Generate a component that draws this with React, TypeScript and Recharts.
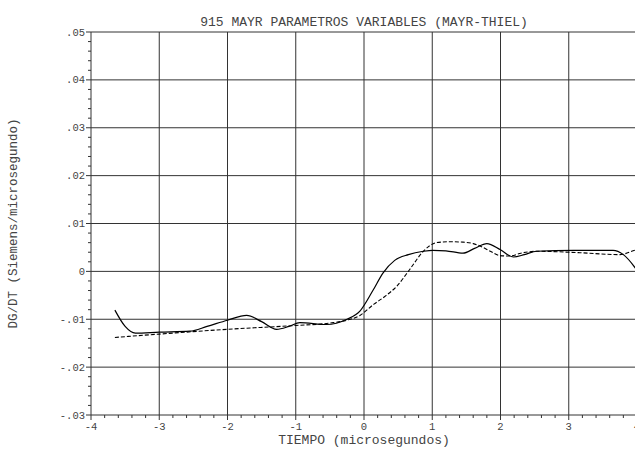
import React from "react";
import { LineChart, Line, XAxis, YAxis, ReferenceLine } from "recharts";

const solidX = [-3.65, -3.5, -3.35, -3.0, -2.55, -2.3, -2.0, -1.72, -1.5, -1.28, -1.1, -0.94, -0.55, -0.25, -0.06, 0.13, 0.28, 0.45, 0.65, 0.87, 1.01, 1.2, 1.45, 1.62, 1.8, 2.0, 2.19, 2.35, 2.53, 3.07, 3.65, 3.8, 3.97, 4.0];
const solidY = [-0.0081, -0.0115, -0.0129, -0.0127, -0.0125, -0.0115, -0.0102, -0.0092, -0.0105, -0.0121, -0.0115, -0.0107, -0.0111, -0.01, -0.0083, -0.004, -0.0003, 0.0023, 0.0035, 0.0042, 0.0044, 0.0043, 0.0038, 0.0048, 0.0058, 0.0045, 0.003, 0.0035, 0.0042, 0.0044, 0.0044, 0.0035, 0.0008, 0.0002];

const dashX = [-3.65, -3.0, -2.0, -1.0, -0.5, -0.25, -0.06, 0.14, 0.3, 0.48, 0.67, 0.87, 1.06, 1.25, 1.45, 1.6, 1.7, 1.85, 1.99, 2.14, 2.3, 2.53, 3.16, 3.75, 3.97, 4.0];
const dashY = [-0.0138, -0.0131, -0.0121, -0.0113, -0.0108, -0.0102, -0.0092, -0.0069, -0.0053, -0.0031, 0.0004, 0.0042, 0.006, 0.0062, 0.0061, 0.0058, 0.0053, 0.0042, 0.0033, 0.0032, 0.0038, 0.0042, 0.0039, 0.0035, 0.0044, 0.0045];

const xMajor = [-4, -3, -2, -1, 0, 1, 2, 3, 4];
const xMajorLabels = ["-4", "-3", "-2", "-1", "0", "1", "2", "3", "4"];
const yMajor = [-0.03, -0.02, -0.01, 0, 0.01, 0.02, 0.03, 0.04, 0.05];
const yMajorLabels = ["-.03", "-.02", "-.01", "0", ".01", ".02", ".03", ".04", ".05"];

const title = "915 MAYR PARAMETROS VARIABLES (MAYR-THIEL)";
const xTitle = "TIEMPO (microsegundos)";
const yTitle = "DG/DT (Siemens/microsegundo)";

const solidData = solidX.map((x, i) => ({ x, y: solidY[i] }));
const dashData = dashX.map((x, i) => ({ x, y: dashY[i] }));

const xTicks: number[] = [];
for (let i = 0; i < xMajor.length - 1; i++) {
  for (let k = 0; k < 5; k++) xTicks.push(+(xMajor[i] + k * 0.2).toFixed(2));
}
xTicks.push(4);
const yTicks: number[] = [];
for (let i = 0; i < yMajor.length - 1; i++) {
  for (let k = 0; k < 5; k++) yTicks.push(+(yMajor[i] + k * 0.002).toFixed(4));
}
yTicks.push(0.05);

const FONT = "'Liberation Mono', 'DejaVu Sans Mono', monospace";
const INK = "#333";
const TXT = "#444";

const XTick = (props: any) => {
  const { x, y, payload } = props;
  const v = payload.value;
  const idx = xMajor.findIndex((m) => Math.abs(m - v) < 1e-6);
  const major = idx >= 0;
  return (
    <g>
      <line x1={x} x2={x} y1={y} y2={y + (major ? 5 : 3)} stroke={INK} strokeWidth={1} />
      {major && (
        <text x={x} y={y + 15} textAnchor="middle" fontFamily={FONT} fontSize={10.5} fill={TXT}>
          {xMajorLabels[idx]}
        </text>
      )}
    </g>
  );
};

const YTick = (props: any) => {
  const { x, y, payload } = props;
  const v = payload.value;
  const idx = yMajor.findIndex((m) => Math.abs(m - v) < 1e-7);
  const major = idx >= 0;
  return (
    <g>
      <line x1={x} x2={x - (major ? 5 : 3)} y1={y} y2={y} stroke={INK} strokeWidth={1} />
      {major && (
        <text x={x - 6} y={y + 3.5} textAnchor="end" fontFamily={FONT} fontSize={10.5} fill={TXT}>
          {yMajorLabels[idx]}
        </text>
      )}
    </g>
  );
};

export default function App() {
  return (
    <div style={{ position: "absolute", left: 0, top: 0, width: 635, height: 450, overflow: "hidden" }}>
      <LineChart width={648} height={450} margin={{ top: 32, right: 11, bottom: 0, left: 0 }}>
        <text x={364} y={26} textAnchor="middle" fontFamily={FONT} fontSize={13} fill={TXT}>
          {title}
        </text>
        <text x={364} y={444} textAnchor="middle" fontFamily={FONT} fontSize={13} fill={TXT}>
          {xTitle}
        </text>
        <text
          x={0}
          y={0}
          transform="translate(17, 223.5) rotate(-90)"
          textAnchor="middle"
          fontFamily={FONT}
          fontSize={12.5}
          fill={TXT}
        >
          {yTitle}
        </text>
        <XAxis
          type="number"
          dataKey="x"
          domain={[-4, 4]}
          ticks={xTicks}
          interval={0}
          tickSize={0}
          tickMargin={0}
          tickLine={false}
          tick={<XTick />}
          height={35}
          axisLine={{ stroke: INK }}
          allowDataOverflow
        />
        <YAxis
          type="number"
          dataKey="y"
          domain={[-0.03, 0.05]}
          ticks={yTicks}
          interval={0}
          tickSize={0}
          tickMargin={0}
          tickLine={false}
          tick={<YTick />}
          width={91}
          axisLine={{ stroke: INK }}
          allowDataOverflow
        />
        {xMajor.slice(1, -1).map((v) => (
          <ReferenceLine key={"vx" + v} x={v} stroke={INK} strokeWidth={1} />
        ))}
        {yMajor.slice(1).map((v) => (
          <ReferenceLine key={"hy" + v} y={v} stroke={INK} strokeWidth={1} />
        ))}
        <Line
          data={dashData}
          dataKey="y"
          type="monotone"
          stroke="#000"
          strokeWidth={1.1}
          strokeDasharray="4 2"
          dot={false}
          isAnimationActive={false}
        />
        <Line
          data={solidData}
          dataKey="y"
          type="monotone"
          stroke="#000"
          strokeWidth={1.2}
          dot={false}
          isAnimationActive={false}
        />
      </LineChart>
    </div>
  );
}
